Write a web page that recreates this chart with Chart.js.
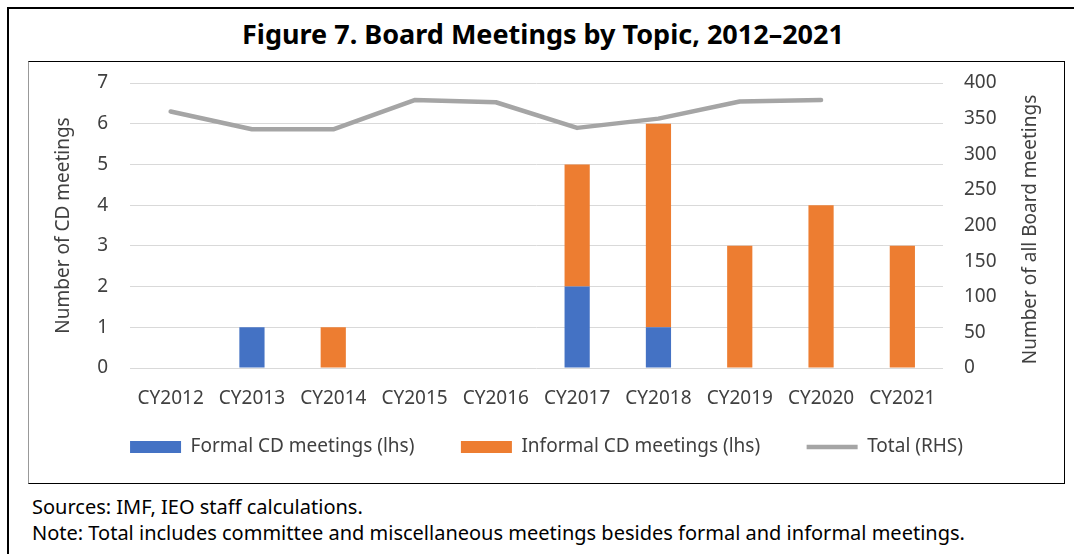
<!DOCTYPE html>
<html>
<head>
<meta charset="utf-8">
<script src="https://cdn.jsdelivr.net/npm/chart.js@4/dist/chart.umd.min.js"></script>
<style>
  html, body { margin: 0; padding: 0; background: #fff; }
  body { width: 1074px; height: 554px; position: relative; overflow: hidden; font-family: "Noto Sans", sans-serif; }
  #frame { position: absolute; left: 7px; top: 7px; width: 1080px; height: 560px; border-left: 2px solid #000; border-top: 2px solid #000; }
  #title { position: absolute; left: 0; top: 17px; width: 1086px; text-align: center; font-size: 27px; font-weight: bold; color: #000; line-height: 34px; }
  #box { position: absolute; left: 28px; top: 61px; width: 1035px; height: 421px; border: 1px solid #000; border-left-color: #999; }
  #box canvas { display: block; }
  .note { position: absolute; left: 32px; font-size: 20px; color: #000; line-height: 26px; }
</style>
</head>
<body>
<div id="frame"></div>
<div id="title">Figure 7. Board Meetings by Topic, 2012–2021</div>
<div id="box"><canvas id="chart" width="1035" height="421"></canvas></div>
<div class="note" style="top:494px">Sources: IMF, IEO staff calculations.</div>
<div class="note" style="top:520px">Note: Total includes committee and miscellaneous meetings besides formal and informal meetings.</div>
<script>
// values
const years = ['CY2012', 'CY2013', 'CY2014', 'CY2015', 'CY2016', 'CY2017', 'CY2018', 'CY2019', 'CY2020', 'CY2021'];
const formalCD = [0, 1, 0, 0, 0, 2, 1, 0, 0, 0];
const informalCD = [0, 0, 1, 0, 0, 3, 5, 3, 4, 3];
const totalBoard = [360, 335, 335, 376, 373, 337, 350, 374, 376, null];

const tickColor = '#404040';
const font = { family: '"Noto Sans", sans-serif', size: 19 };

// right-hand axis title, reading bottom to top like the left one
const rightTitle = {
  id: 'rightTitle',
  afterDraw(chart) {
    const { ctx, chartArea } = chart;
    ctx.save();
    ctx.translate(1002, (chartArea.top + chartArea.bottom) / 2 + 4);
    ctx.rotate(-Math.PI / 2);
    ctx.font = '19px "Noto Sans", sans-serif';
    ctx.fillStyle = tickColor;
    ctx.textAlign = 'center';
    ctx.textBaseline = 'middle';
    ctx.fillText('Number of all Board meetings', 0, 0);
    ctx.restore();
  }
};

// fixed axis width, and no extra room above the plot for the top tick label
const fitSide = (width) => (scale) => {
  scale.width = width;
  scale.paddingTop = 0;
  scale.paddingBottom = 0;
};

function initChart() {
  const canvas = document.getElementById('chart');
  if (!canvas) {
    console.error('Chart canvas not found');
    return;
  }

  new Chart(canvas.getContext('2d'), {
    data: {
      labels: years,
      datasets: [
        {
          type: 'bar',
          label: 'Formal CD meetings (lhs)',
          data: formalCD,
          backgroundColor: '#4472C4',
          yAxisID: 'y',
          order: 2,
          barPercentage: 1,
          categoryPercentage: 0.31,
        },
        {
          type: 'bar',
          label: 'Informal CD meetings (lhs)',
          data: informalCD,
          backgroundColor: '#ED7D31',
          yAxisID: 'y',
          order: 3,
          barPercentage: 1,
          categoryPercentage: 0.31,
        },
        {
          type: 'line',
          label: 'Total (RHS)',
          data: totalBoard,
          borderColor: '#A5A5A5',
          backgroundColor: '#A5A5A5',
          borderWidth: 4.5,
          borderJoinStyle: 'round',
          borderCapStyle: 'round',
          pointRadius: 0,
          tension: 0,
          yAxisID: 'y1',
          order: 1,
        },
      ],
    },
    options: {
      responsive: false,
      animation: false,
      layout: { padding: { top: 21, bottom: 16.5, left: 0, right: 0 } },
      scales: {
        x: {
          stacked: true,
          grid: { display: false, drawTicks: false },
          border: { display: false },
          ticks: { color: tickColor, font, padding: 19, maxRotation: 0, autoSkip: false },
          afterFit: (scale) => { scale.height = 42; },
        },
        y: {
          stacked: true,
          position: 'left',
          min: 0,
          max: 7,
          ticks: { stepSize: 1, color: tickColor, font, padding: 22 },
          grid: { color: '#D9D9D9', lineWidth: 1, drawTicks: false },
          border: { display: false },
          title: {
            display: true,
            text: 'Number of CD meetings',
            color: tickColor,
            font,
            padding: { top: 23.6, bottom: 0 },
          },
          afterFit: fitSide(101),
        },
        y1: {
          position: 'right',
          min: 0,
          max: 400,
          ticks: { stepSize: 50, color: tickColor, font, padding: 21 },
          grid: { display: false, drawTicks: false },
          border: { display: false },
          afterFit: fitSide(121),
        },
      },
      plugins: {
        tooltip: { enabled: false },
        legend: {
          position: 'bottom',
          labels: {
            color: tickColor,
            font,
            padding: 27.5,
            usePointStyle: true,
            pointStyleWidth: 51,
            boxHeight: 12,
            sort: (a, b) => a.datasetIndex - b.datasetIndex,
            generateLabels: (chart) => {
              const items = Chart.defaults.plugins.legend.labels.generateLabels(chart);
              items.forEach((item) => {
                const ds = chart.data.datasets[item.datasetIndex];
                if (ds.type === 'line') {
                  item.pointStyle = 'line';
                  item.lineWidth = 4.5;
                  item.strokeStyle = '#A5A5A5';
                } else {
                  // a little extra room before the next entry
                  item.text = item.text + '\u2002\u2002';
                  item.pointStyle = 'rect';
                  item.lineWidth = 0;
                }
              });
              return items;
            },
          },
        },
      },
    },
    plugins: [rightTitle],
  });
}

if (document.readyState === 'loading') {
  document.addEventListener('DOMContentLoaded', initChart);
} else {
  initChart();
}
</script>
</body>
</html>
